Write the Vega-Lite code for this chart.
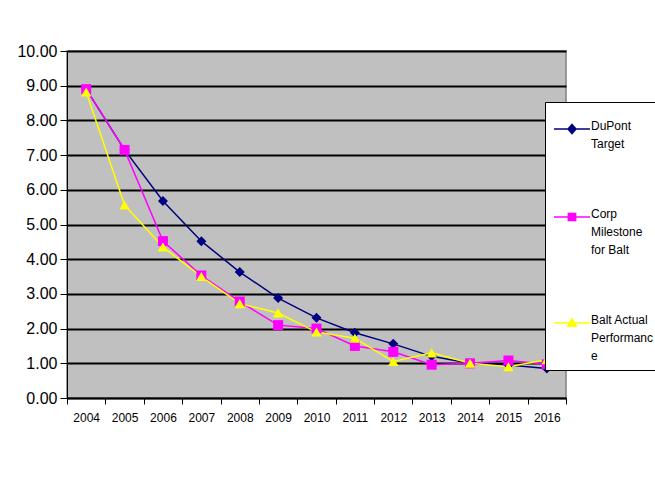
{
  "$schema": "https://vega.github.io/schema/vega-lite/v6.json",
  "autosize": "none",
  "width": 499,
  "height": 347,
  "padding": {"left": 67, "top": 51, "right": 89, "bottom": 82},
  "background": "white",
  "config": {
    "font": "Liberation Sans, Arial, sans-serif",
    "view": {"fill": "#C0C0C0", "stroke": "#808080", "strokeWidth": 1.5}
  },
  "data": {
    "values": [
      {"year": "2004", "series": "DuPont Target", "value": 8.9},
      {"year": "2005", "series": "DuPont Target", "value": 7.15},
      {"year": "2006", "series": "DuPont Target", "value": 5.68},
      {"year": "2007", "series": "DuPont Target", "value": 4.52},
      {"year": "2008", "series": "DuPont Target", "value": 3.63},
      {"year": "2009", "series": "DuPont Target", "value": 2.88},
      {"year": "2010", "series": "DuPont Target", "value": 2.31},
      {"year": "2011", "series": "DuPont Target", "value": 1.88},
      {"year": "2012", "series": "DuPont Target", "value": 1.56},
      {"year": "2013", "series": "DuPont Target", "value": 1.2},
      {"year": "2014", "series": "DuPont Target", "value": 1.0},
      {"year": "2015", "series": "DuPont Target", "value": 0.95},
      {"year": "2016", "series": "DuPont Target", "value": 0.85},
      {"year": "2004", "series": "Corp Milestone for Balt", "value": 8.9},
      {"year": "2005", "series": "Corp Milestone for Balt", "value": 7.15},
      {"year": "2006", "series": "Corp Milestone for Balt", "value": 4.52},
      {"year": "2007", "series": "Corp Milestone for Balt", "value": 3.53},
      {"year": "2008", "series": "Corp Milestone for Balt", "value": 2.78},
      {"year": "2009", "series": "Corp Milestone for Balt", "value": 2.1},
      {"year": "2010", "series": "Corp Milestone for Balt", "value": 2.0},
      {"year": "2011", "series": "Corp Milestone for Balt", "value": 1.5},
      {"year": "2012", "series": "Corp Milestone for Balt", "value": 1.33},
      {"year": "2013", "series": "Corp Milestone for Balt", "value": 0.96},
      {"year": "2014", "series": "Corp Milestone for Balt", "value": 1.0},
      {"year": "2015", "series": "Corp Milestone for Balt", "value": 1.08},
      {"year": "2016", "series": "Corp Milestone for Balt", "value": 0.97},
      {"year": "2004", "series": "Balt Actual Performance", "value": 8.82},
      {"year": "2005", "series": "Balt Actual Performance", "value": 5.56},
      {"year": "2006", "series": "Balt Actual Performance", "value": 4.35},
      {"year": "2007", "series": "Balt Actual Performance", "value": 3.5},
      {"year": "2008", "series": "Balt Actual Performance", "value": 2.72},
      {"year": "2009", "series": "Balt Actual Performance", "value": 2.45},
      {"year": "2010", "series": "Balt Actual Performance", "value": 1.9},
      {"year": "2011", "series": "Balt Actual Performance", "value": 1.72},
      {"year": "2012", "series": "Balt Actual Performance", "value": 1.05},
      {"year": "2013", "series": "Balt Actual Performance", "value": 1.3},
      {"year": "2014", "series": "Balt Actual Performance", "value": 1.0},
      {"year": "2015", "series": "Balt Actual Performance", "value": 0.9},
      {"year": "2016", "series": "Balt Actual Performance", "value": 1.1}
    ]
  },
  "encoding": {
    "x": {
      "field": "year",
      "type": "ordinal",
      "title": null,
      "scale": {"type": "band", "paddingInner": 0, "paddingOuter": 0},
      "axis": {
        "labelAngle": 0,
        "labelFontSize": 12,
        "labelColor": "#000",
        "labelPadding": 8,
        "tickBand": "extent",
        "tickColor": "#000",
        "tickSize": 6,
        "domainColor": "#000",
        "domainWidth": 1.5,
        "grid": false
      }
    },
    "y": {
      "field": "value",
      "type": "quantitative",
      "title": null,
      "scale": {"domain": [0, 10], "nice": false},
      "axis": {
        "values": [0, 1, 2, 3, 4, 5, 6, 7, 8, 9, 10],
        "format": ".2f",
        "labelFontSize": 16,
        "labelColor": "#000",
        "labelPadding": 3,
        "tickColor": "#000",
        "tickSize": 7,
        "domainColor": "#000",
        "gridColor": "#000",
        "gridWidth": 1.8,
        "gridOpacity": 1
      }
    }
  },
  "layer": [
    {
      "mark": {"type": "line", "strokeWidth": 1.5},
      "encoding": {
        "color": {
          "field": "series",
          "type": "nominal",
          "sort": ["DuPont Target", "Corp Milestone for Balt", "Balt Actual Performance"],
          "scale": {
            "domain": ["DuPont Target", "Corp Milestone for Balt", "Balt Actual Performance"],
            "range": ["#000080", "#FF00FF", "#FFFF00"]
          },
          "legend": {
            "title": null,
            "orient": "none",
            "legendX": 478,
            "legendY": 51,
            "padding": 8,
            "fillColor": "white",
            "strokeColor": "#000",
            "labelFontSize": 12,
            "labelColor": "#000",
            "labelOffset": 0,
            "labelBaseline": "top",
            "labelLimit": 300,
            "rowPadding": 48,
            "symbolSize": 1296,
            "labelExpr": "datum.label == 'DuPont Target' ? ['DuPont', 'Target'] : datum.label == 'Corp Milestone for Balt' ? ['Corp', 'Milestone', 'for Balt'] : ['Balt Actual', 'Performanc', 'e']",
            "encode": {
              "labels": {"update": {"dy": {"value": -8}, "lineHeight": {"value": 18}}},
              "symbols": {
                "update": {
                  "shape": {"signal": "datum.value === 'DuPont Target' ? 'M-1,0H1M0,-0.25L0.22,0L0,0.25L-0.22,0Z' : datum.value === 'Corp Milestone for Balt' ? 'M-1,0H1M-0.2,-0.2H0.2V0.2H-0.2Z' : 'M-1,0H1M0,-0.24L0.24,0.18L-0.24,0.18Z'"},
                  "fill": {"signal": "scale('color', datum.value)"},
                  "stroke": {"signal": "scale('color', datum.value)"},
                  "strokeWidth": {"value": 1.5},
                  "size": {"value": 1296},
                  "opacity": {"value": 1}
                }
              }
            }
          }
        }
      }
    },
    {
      "transform": [{"filter": "datum.series === 'DuPont Target'"}],
      "mark": {"type": "point", "filled": true, "opacity": 1, "size": 100, "shape": "diamond", "color": "#000080"}
    },
    {
      "transform": [{"filter": "datum.series === 'Corp Milestone for Balt'"}],
      "mark": {"type": "point", "filled": true, "opacity": 1, "size": 100, "shape": "square", "color": "#FF00FF"}
    },
    {
      "transform": [{"filter": "datum.series === 'Balt Actual Performance'"}],
      "mark": {"type": "point", "filled": true, "opacity": 1, "size": 110, "shape": "triangle-up", "color": "#FFFF00"}
    }
  ]
}
